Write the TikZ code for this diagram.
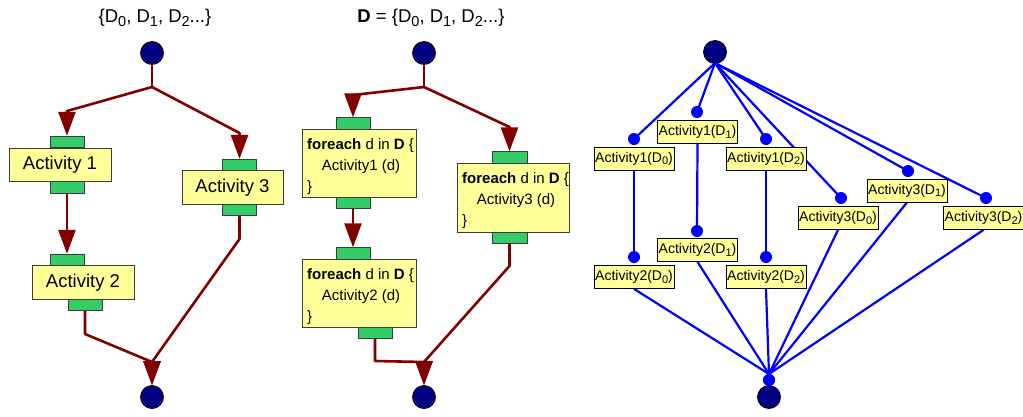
\documentclass[tikz,border=0pt]{standalone}
\usepackage{fontspec}
\setmainfont{Liberation Sans}
\usetikzlibrary{arrows.meta}
\definecolor{navyc}{RGB}{0,0,128}
\definecolor{redc}{RGB}{128,0,0}
\definecolor{yel}{RGB}{255,255,153}
\definecolor{grn}{RGB}{51,204,102}
\definecolor{brd}{RGB}{60,60,60}
\definecolor{bl}{RGB}{0,0,255}
\newcommand\tsub[1]{\raisebox{-3.5pt}{\fontsize{14.5}{15}\selectfont #1}}
\newcommand\lsub[1]{\raisebox{-2.5pt}{\fontsize{11}{11}\selectfont #1}}
\begin{document}
\begin{tikzpicture}[x=1pt,y=-1pt,
  bigdot/.style={circle,fill=navyc,draw=black,line width=0.8pt,minimum size=23pt,inner sep=0pt},
  smalldot/.style={circle,fill=bl,draw=none,minimum size=12pt,inner sep=0pt},
  port/.style={rectangle,fill=grn,draw=brd,line width=0.8pt,minimum width=34pt,minimum height=11.5pt,inner sep=0pt},
  actbox/.style={rectangle,fill=yel,draw=brd,line width=0.8pt,minimum width=102pt,minimum height=33.5pt,inner sep=0pt,font=\fontsize{18.5}{22}\selectfont},
  fbox/.style={rectangle,fill=yel,draw=brd,line width=0.8pt,inner sep=0pt},
  ftext/.style={inner sep=0pt,font=\fontsize{15}{18}\selectfont},
  title/.style={inner sep=0pt,font=\fontsize{18.5}{22}\selectfont,anchor=base},
  lbl/.style={rectangle,fill=yel,draw=black,line width=0.8pt,minimum width=80pt,minimum height=23pt,inner sep=0pt,font=\fontsize{14}{16}\selectfont},
  flow/.style={draw=redc,line width=2.6pt,line join=round},
  flowarr/.style={flow,-{Triangle[length=24pt,width=17pt]}},
  bline/.style={draw=bl,line width=2.2pt}]
\useasboundingbox (0,0) rectangle (1023,416);

% ---------------- left diagram ----------------
\node[title] (t1) at (155,22.5) {\{D\tsub{0}, D\tsub{1}, D\tsub{2}...\}};
\node[bigdot] (s1) at (152,53) {};
\node[port] (a1t) at (67,142) {};
\node[port] (a1b) at (67,187.5) {};
\node[actbox] (a1) at (60,165) {Activity 1};
\node[port] (a3t) at (239.5,165) {};
\node[port] (a3b) at (239.5,209.5) {};
\node[actbox,minimum width=101pt] (a3) at (232.5,187.5) {Activity 3};
\node[port] (a2t) at (67,260) {};
\node[port] (a2b) at (85,305) {};
\node[actbox] (a2) at (83,282.5) {Activity 2};
\node[bigdot] (e1) at (152,397) {};
\coordinate (f1k) at (152,87);
\coordinate (b1a) at (67,111);
\coordinate (b1b) at (239.5,133);
\coordinate (b1c) at (85,334);
\coordinate (b1d) at (239.5,239);
\coordinate (j1) at (152,362);
\draw[flow] (s1) -- (f1k);
\draw[flowarr] (f1k) -- (b1a) -- (a1t.north);
\draw[flowarr] (f1k) -- (b1b) -- (a3t.north);
\draw[flowarr] (a1b.south) -- (a2t.north);
\draw[flowarr] (a2b.south) -- (b1c) -- (j1) -- (e1.north);
\draw[flowarr] (a3b.south) -- (b1d) -- (j1) -- (e1.north);

% ---------------- middle diagram ----------------
\node[title] (t2) at (431,22.5) {\textbf{D} = \{D\tsub{0}, D\tsub{1}, D\tsub{2}...\}};
\node[bigdot] (s2) at (424,53) {};
\node[port] (f1t) at (353,123.5) {};
\node[port] (f1b) at (353,202.5) {};
\node[fbox,minimum width=114pt,minimum height=68pt] (fb1) at (359,163) {};
\node[port] (f2t) at (353,253.5) {};
\node[port] (f2b) at (375,332.5) {};
\node[fbox,minimum width=114pt,minimum height=68pt] (fb2) at (359,293) {};
\node[port,minimum width=35pt] (f3t) at (509.5,157.5) {};
\node[port,minimum width=35pt] (f3b) at (509.5,237.5) {};
\node[fbox,minimum width=112pt,minimum height=69pt] (fb3) at (513,197.5) {};
\node[ftext,anchor=base west] (x1a) at (307,149) {\textbf{foreach} d in \textbf{D} \{};
\node[ftext,anchor=base] (x1b) at (361,170) {Activity1 (d)};
\node[ftext,anchor=base west] (x1c) at (307,191) {\}};
\node[ftext,anchor=base west] (x2a) at (307,279) {\textbf{foreach} d in \textbf{D} \{};
\node[ftext,anchor=base] (x2b) at (361,300) {Activity2 (d)};
\node[ftext,anchor=base west] (x2c) at (307,321) {\}};
\node[ftext,anchor=base west] (x3a) at (462,183) {\textbf{foreach} d in \textbf{D} \{};
\node[ftext,anchor=base] (x3b) at (516,204) {Activity3 (d)};
\node[ftext,anchor=base west] (x3c) at (462,225) {\}};
\node[bigdot] (e2) at (424,397) {};
\coordinate (f2k) at (424,87);
\coordinate (b2a) at (353,95);
\coordinate (b2b) at (509.5,127);
\coordinate (b2c) at (375,361);
\coordinate (b2d) at (509.5,266);
\coordinate (j2) at (424,362);
\draw[flow] (s2) -- (f2k);
\draw[flowarr] (f2k) -- (b2a) -- (f1t.north);
\draw[flowarr] (f2k) -- (b2b) -- (f3t.north);
\draw[flowarr] (f1b.south) -- (f2t.north);
\draw[flowarr] (f2b.south) -- (b2c) -- (j2) -- (e2.north);
\draw[flowarr] (f3b.south) -- (b2d) -- (j2) -- (e2.north);

% ---------------- right diagram ----------------
\node[bigdot] (s3) at (715,52) {};
\node[bigdot] (e3) at (769,397) {};
\node[smalldot] (d1a) at (634,139) {};
\node[smalldot] (d1b) at (697,112) {};
\node[smalldot] (d1c) at (766,139) {};
\node[smalldot] (d3a) at (841,198) {};
\node[smalldot] (d3b) at (908,171) {};
\node[smalldot] (d3c) at (986,198) {};
\node[smalldot] (d2a) at (634,257) {};
\node[smalldot] (d2b) at (697,231) {};
\node[smalldot] (d2c) at (766,257) {};
\node[smalldot] (de) at (769,380) {};
\coordinate (top3) at (715,63);
\coordinate (bot3) at (769,374);
\draw[bline] (top3) -- (d1a.center);
\draw[bline] (top3) -- (d1b.center);
\draw[bline] (top3) -- (d1c.center);
\draw[bline] (top3) -- (d3a.center);
\draw[bline] (top3) -- (d3b.center);
\draw[bline] (top3) -- (d3c.center);
\node[lbl] (l1a) at (634,158.5) {Activity1(D\lsub{0})};
\node[lbl] (l1b) at (697.5,132) {Activity1(D\lsub{1})};
\node[lbl] (l1c) at (766,158.5) {Activity1(D\lsub{2})};
\node[lbl] (l3a) at (838,218) {Activity3(D\lsub{0})};
\node[lbl] (l3b) at (907,190.5) {Activity3(D\lsub{1})};
\node[lbl] (l3c) at (983.5,218) {Activity3(D\lsub{2})};
\draw[bline] (l1a.south) -- (d2a.center);
\draw[bline] (l1b.south) -- (d2b.center);
\draw[bline] (l1c.south) -- (d2c.center);
\node[lbl] (l2a) at (634,277) {Activity2(D\lsub{0})};
\node[lbl] (l2b) at (697.5,250) {Activity2(D\lsub{1})};
\node[lbl] (l2c) at (766,277) {Activity2(D\lsub{2})};
\foreach \n in {l2a,l2b,l2c,l3a,l3b,l3c} {
  \draw[bline] (\n.south) -- (bot3);
}
\node[smalldot] at (de) {};
\end{tikzpicture}
\end{document}
